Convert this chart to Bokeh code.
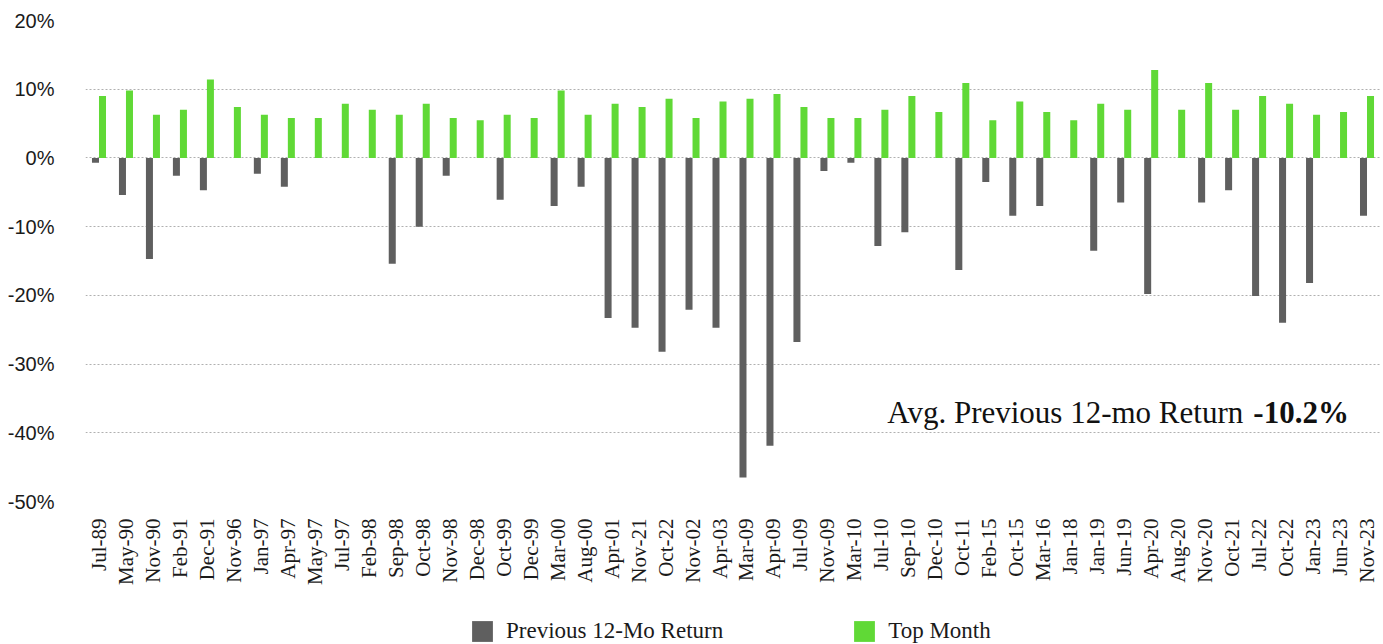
import math
from bokeh.plotting import figure
from bokeh.layouts import column
from bokeh.models import (ColumnDataSource, Range1d, FixedTicker, Label, Legend, LegendItem)
from bokeh.transform import dodge
from bokeh.embed import file_html
from bokeh.resources import INLINE

months = ["Jul-89", "May-90", "Nov-90", "Feb-91", "Dec-91", "Nov-96", "Jan-97", "Apr-97",
          "May-97", "Jul-97", "Feb-98", "Sep-98", "Oct-98", "Nov-98", "Dec-98", "Oct-99",
          "Dec-99", "Mar-00", "Aug-00", "Apr-01", "Nov-21", "Oct-22", "Nov-02", "Apr-03",
          "Mar-09", "Apr-09", "Jul-09", "Nov-09", "Mar-10", "Jul-10", "Sep-10", "Dec-10",
          "Oct-11", "Feb-15", "Oct-15", "Mar-16", "Jan-18", "Jan-19", "Jun-19", "Apr-20",
          "Aug-20", "Nov-20", "Oct-21", "Jul-22", "Oct-22", "Jan-23", "Jun-23", "Nov-23"]

prev_12mo_return = [-0.7, -5.4, -14.7, -2.6, -4.7, 0.0, -2.3, -4.2,
                    0.0, 0.0, 0.0, -15.4, -10.0, -2.6, 0.0, -6.1,
                    0.0, -7.0, -4.2, -23.3, -24.7, -28.2, -22.1, -24.7,
                    -46.5, -41.9, -26.8, -1.9, -0.7, -12.8, -10.8, 0.0,
                    -16.3, -3.5, -8.4, -7.0, 0.0, -13.5, -6.5, -19.8,
                    0.0, -6.5, -4.7, -20.1, -24.0, -18.2, 0.0, -8.4]

top_month = [9.0, 9.8, 6.3, 7.0, 11.4, 7.4, 6.3, 5.8,
             5.8, 7.9, 7.0, 6.3, 7.9, 5.8, 5.5, 6.3,
             5.8, 9.8, 6.3, 7.9, 7.4, 8.6, 5.8, 8.2,
             8.6, 9.3, 7.4, 5.8, 5.8, 7.0, 9.0, 6.7,
             10.9, 5.5, 8.2, 6.7, 5.5, 7.9, 7.0, 12.8,
             7.0, 10.9, 7.0, 9.0, 7.9, 6.3, 6.7, 9.0]

y_ticks = [-50, -40, -30, -20, -10, 0, 10, 20]
grid_ticks = [-40, -30, -20, -10, 0, 10]
series_names = ["Previous 12-Mo Return", "Top Month"]
avg_label = "Avg. Previous 12-mo Return"
avg_value = "-10.2%"

GRAY = "#5f5f5f"
GREEN = "#60d936"
SERIF = "Liberation Serif"

idx = list(range(len(months)))
src = ColumnDataSource(dict(x=idx, prev=prev_12mo_return, top=top_month))

p = figure(width=1383, height=610, output_backend="svg", toolbar_location=None,
           x_range=Range1d(-0.5, len(months) - 0.5), y_range=Range1d(-50, 20),
           min_border_left=85, min_border_right=3, min_border_top=20, min_border_bottom=109)
p.outline_line_color = None

p.vbar(x=dodge("x", -0.13), top="prev", bottom=0, width=0.26, source=src,
       fill_color=GRAY, line_color=None)
p.vbar(x=dodge("x", 0.13), top="top", bottom=0, width=0.26, source=src,
       fill_color=GREEN, line_color=None)

# axes
p.xaxis.ticker = FixedTicker(ticks=idx)
p.xaxis.major_label_overrides = {i: m for i, m in enumerate(months)}
p.xaxis.major_label_orientation = math.pi / 2
p.xaxis.major_label_text_font = SERIF
p.xaxis.major_label_text_font_size = "21px"
p.xaxis.major_label_text_color = "#1a1a1a"
p.xaxis.major_label_standoff = 11
p.xaxis.axis_line_color = None
p.xaxis.major_tick_line_color = None
p.xaxis.minor_tick_line_color = None

p.yaxis.ticker = FixedTicker(ticks=y_ticks)
p.yaxis.major_label_overrides = {t: f"{t}%" for t in y_ticks}
p.yaxis.major_label_text_font = "Liberation Sans"
p.yaxis.major_label_text_font_size = "20px"
p.yaxis.major_label_text_color = "#1a1a1a"
p.yaxis.major_label_standoff = 25
p.yaxis.axis_line_color = None
p.yaxis.major_tick_line_color = None
p.yaxis.minor_tick_line_color = None

p.xgrid.visible = False
p.ygrid.ticker = FixedTicker(ticks=grid_ticks)
p.ygrid.grid_line_color = "#b0b0b0"
p.ygrid.grid_line_dash = "2 2"
p.ygrid.grid_line_width = 1

# annotation
p.add_layout(Label(x=29.22, y=-37.05, text=avg_label, text_font=SERIF,
                   text_font_size="31px", text_color="#111111", text_baseline="alphabetic"))
p.add_layout(Label(x=46.33, y=-37.05, text=avg_value, text_font=SERIF, text_align="right",
                   text_font_size="31px", text_font_style="bold", text_color="#111111",
                   text_baseline="alphabetic"))

# legend strip below the chart
lg = figure(width=1383, height=34, output_backend="svg", toolbar_location=None,
            x_axis_type=None, y_axis_type=None, min_border=0,
            x_range=Range1d(0, 1), y_range=Range1d(0, 1))
lg.outline_line_color = None
lg.xgrid.visible = False
lg.ygrid.visible = False
d1 = lg.vbar(x=[-5], top=[-5], bottom=[-6], width=0.1, fill_color=GRAY, line_color=None)
d2 = lg.vbar(x=[-5], top=[-5], bottom=[-6], width=0.1, fill_color=GREEN, line_color=None)
legend = Legend(items=[LegendItem(label=series_names[0], renderers=[d1]),
                       LegendItem(label=series_names[1], renderers=[d2])],
                orientation="horizontal", location=(384, 0),
                padding=0, margin=0, spacing=128, label_standoff=11,
                glyph_width=26, glyph_height=26, label_height=21,
                label_text_font=SERIF, label_text_font_size="23px",
                label_text_color="#1a1a1a",
                border_line_color=None, background_fill_alpha=0)
lg.add_layout(legend)

layout = column(p, lg, spacing=0)
open("out.html", "w").write(file_html(layout, INLINE))
